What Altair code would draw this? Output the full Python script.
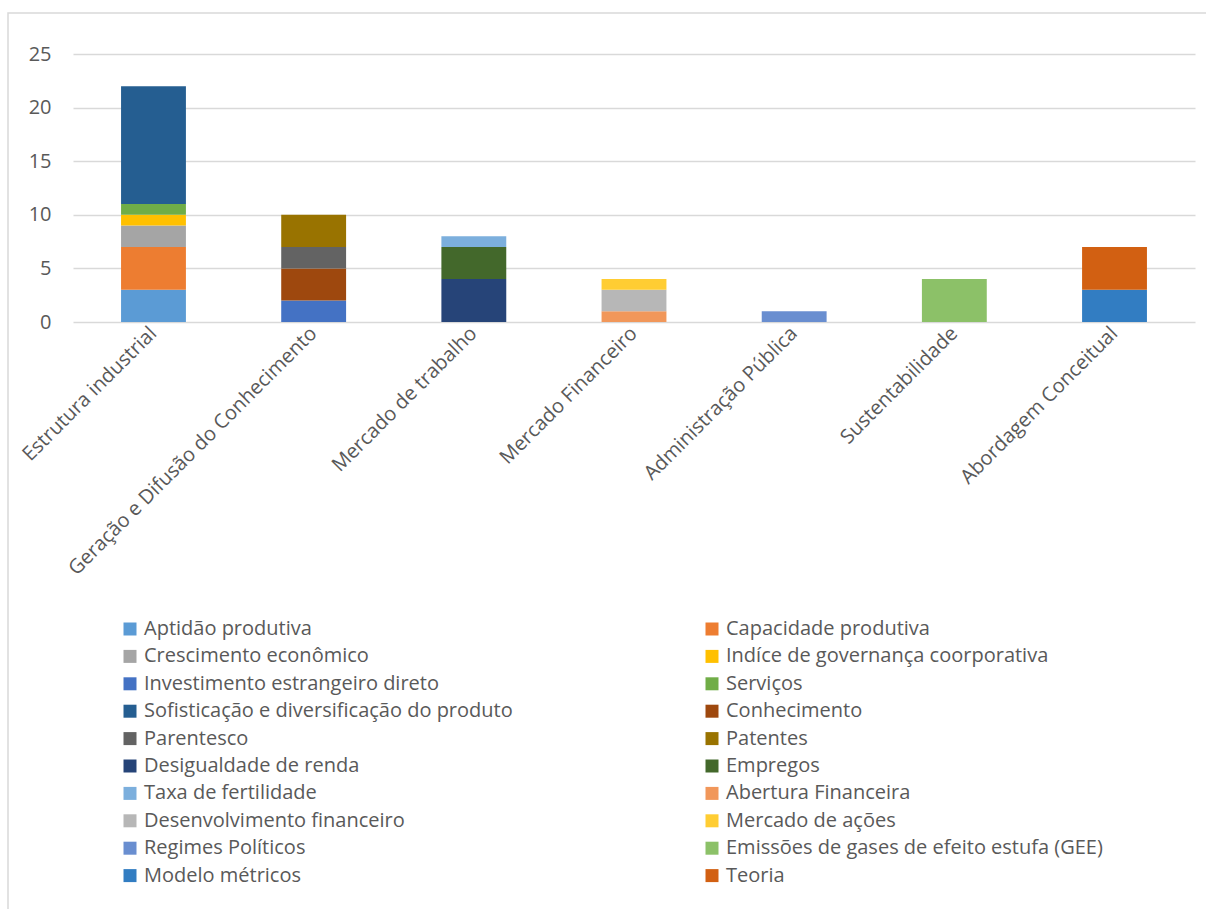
import altair as alt
import pandas as pd

categories = [
    "Estrutura industrial",
    "Geração e Difusão do Conhecimento",
    "Mercado de trabalho",
    "Mercado Financeiro",
    "Administração Pública",
    "Sustentabilidade",
    "Abordagem Conceitual",
]

series = [
    "Aptidão produtiva", "Capacidade produtiva", "Crescimento econômico",
    "Indíce de governança coorporativa", "Investimento estrangeiro direto", "Serviços",
    "Sofisticação e diversificação do produto", "Conhecimento", "Parentesco", "Patentes",
    "Desigualdade de renda", "Empregos", "Taxa de fertilidade", "Abertura Financeira",
    "Desenvolvimento financeiro", "Mercado de ações", "Regimes Políticos",
    "Emissões de gases de efeito estufa (GEE)", "Modelo métricos", "Teoria",
]

series_category = [
    "Estrutura industrial", "Estrutura industrial", "Estrutura industrial",
    "Estrutura industrial", "Geração e Difusão do Conhecimento", "Estrutura industrial",
    "Estrutura industrial", "Geração e Difusão do Conhecimento",
    "Geração e Difusão do Conhecimento", "Geração e Difusão do Conhecimento",
    "Mercado de trabalho", "Mercado de trabalho", "Mercado de trabalho",
    "Mercado Financeiro", "Mercado Financeiro", "Mercado Financeiro",
    "Administração Pública", "Sustentabilidade", "Abordagem Conceitual",
    "Abordagem Conceitual",
]

values = [3, 4, 2, 1, 2, 1, 11, 3, 2, 3, 4, 3, 1, 1, 2, 1, 1, 4, 3, 4]

colors = [
    "#5B9BD5", "#ED7D31", "#A5A5A5", "#FFC000", "#4472C4", "#70AD47",
    "#255E91", "#9E480E", "#636363", "#997300", "#264478", "#43682B",
    "#7CAFDD", "#F1975A", "#B7B7B7", "#FFCD33", "#698ED0", "#8CC168",
    "#327DC2", "#D26012",
]

df = pd.DataFrame({
    "Categoria": series_category,
    "Série": series,
    "Valor": values,
    "Ordem": list(range(len(series))),
})

FONT = "Open Sans"
TXT = "#595959"
FS = 20

bars = alt.Chart(df).mark_bar().encode(
    x=alt.X("Categoria:N", sort=categories, title=None,
            scale=alt.Scale(paddingInner=0.595, paddingOuter=0.3),
            axis=alt.Axis(labelAngle=315, labelAlign="right", labelBaseline="middle",
                          labelFontSize=FS, labelColor=TXT, labelFont=FONT,
                          ticks=False, domain=False, labelPadding=8, labelLimit=400)),
    y=alt.Y("sum(Valor):Q", title=None, stack="zero",
            scale=alt.Scale(domain=[0, 25], nice=False),
            axis=alt.Axis(values=[0, 5, 10, 15, 20, 25], labelFontSize=FS, labelColor=TXT,
                          labelFont=FONT, ticks=False, domain=False, labelPadding=22,
                          gridColor="#D9D9D9", gridWidth=1.3)),
    color=alt.Color("Série:N", sort=series,
                    scale=alt.Scale(domain=series, range=colors),
                    legend=alt.Legend(title=None, orient="none", legendX=47, legendY=565,
                                      columns=2, direction="horizontal", columnPadding=189,
                                      symbolType="square", symbolSize=169,
                                      symbolStrokeWidth=0,
                                      labelFontSize=FS, labelColor=TXT, labelFont=FONT,
                                      labelOffset=4, rowPadding=7.4, labelLimit=600)),
    order=alt.Order("Ordem:Q", sort="ascending"),
)

frame = alt.Chart(pd.DataFrame({"f": [0]})).mark_rect(
    fill=None, stroke="#D9D9D9", strokeWidth=1.5
).encode(
    x=alt.value(-65), x2=alt.value(1160), y=alt.value(-41), y2=alt.value(900)
)

chart = alt.layer(frame, bars).properties(
    width=1122, height=268,
    autosize=alt.AutoSizeParams(type="none"),
    padding={"left": 73, "top": 54, "right": 11, "bottom": 587},
    background="white",
).configure_view(strokeWidth=0)

chart.save("out.html", embed_options={"renderer": "svg", "actions": False})
